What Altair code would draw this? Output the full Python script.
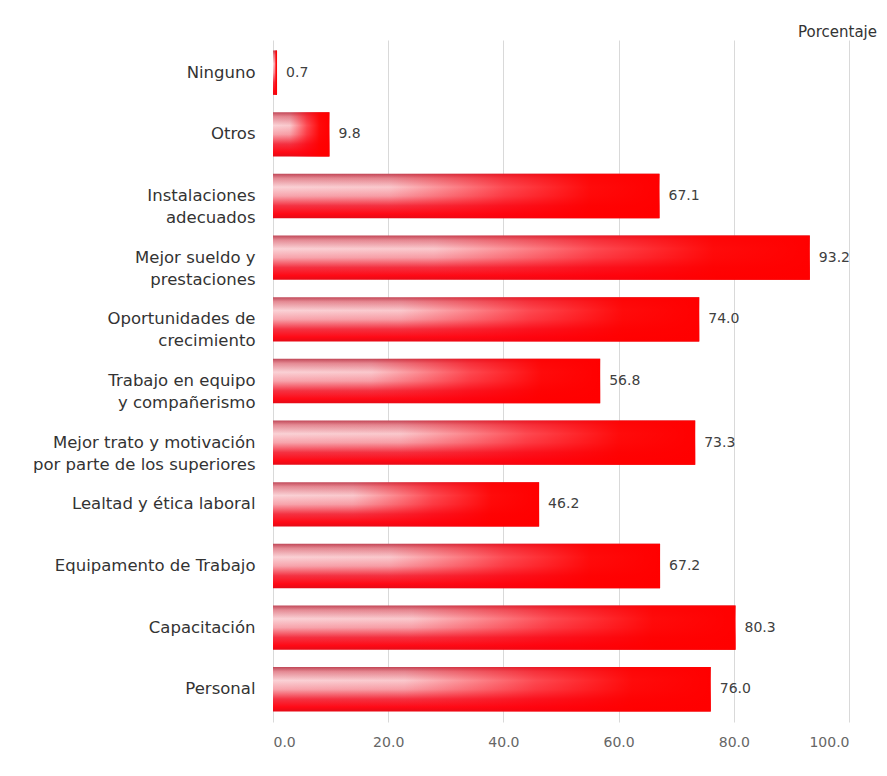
import altair as alt
import pandas as pd

categories = [
    "Ninguno",
    "Otros",
    "Instalaciones\nadecuados",
    "Mejor sueldo y\nprestaciones",
    "Oportunidades de\ncrecimiento",
    "Trabajo en equipo\ny compañerismo",
    "Mejor trato y motivación\npor parte de los superiores",
    "Lealtad y ética laboral",
    "Equipamento de Trabajo",
    "Capacitación",
    "Personal",
]
values = [0.7, 9.8, 67.1, 93.2, 74.0, 56.8, 73.3, 46.2, 67.2, 80.3, 76.0]
x_ticks = [0, 20, 40, 60, 80, 100]

df = pd.DataFrame({"cat": categories, "val": values})

FONT = "DejaVu Sans"

y_enc = alt.Y(
    "cat:N",
    sort=categories,
    scale=alt.Scale(paddingInner=0.28, paddingOuter=0.17),
    axis=alt.Axis(
        title=None,
        ticks=False,
        domain=False,
        labelPadding=18,
        labelFont=FONT,
        labelFontSize=16.5,
        labelColor="#333333",
        labelLineHeight=22,
        labelLimit=300,
        labelExpr="split(datum.label, '\\n')",
    ),
)
x_enc = alt.X(
    "val:Q",
    scale=alt.Scale(domain=[0, 100]),
    axis=alt.Axis(
        title=None,
        values=x_ticks,
        format=".1f",
        ticks=False,
        domain=False,
        grid=True,
        gridColor="#d9d9d9",
        labelFont=FONT,
        labelFontSize=14,
        labelColor="#666666",
        labelPadding=13,
    ),
)

vert_grad = alt.Gradient(
    gradient="linear",
    x1=0, y1=0, x2=0, y2=1,
    stops=[
        alt.GradientStop(color="#c04858", offset=0),
        alt.GradientStop(color="#e48a94", offset=0.1),
        alt.GradientStop(color="#fad2d6", offset=0.3),
        alt.GradientStop(color="#f7a4ac", offset=0.5),
        alt.GradientStop(color="#f43242", offset=0.72),
        alt.GradientStop(color="#ff0a16", offset=0.9),
        alt.GradientStop(color="#e40a16", offset=1),
    ],
)
horiz_grad = alt.Gradient(
    gradient="linear",
    x1=0, y1=0, x2=1, y2=0,
    stops=[
        alt.GradientStop(color="rgba(255,10,20,0)", offset=0),
        alt.GradientStop(color="rgba(255,10,20,0.05)", offset=0.3),
        alt.GradientStop(color="rgba(255,0,10,0.65)", offset=0.6),
        alt.GradientStop(color="rgba(255,0,0,0.95)", offset=0.82),
        alt.GradientStop(color="rgba(255,0,0,1)", offset=1),
    ],
)

base = alt.Chart(df)
bars = base.mark_bar(color=vert_grad).encode(x=x_enc, y=y_enc)
overlay = base.mark_bar(color=horiz_grad).encode(x="val:Q", y=alt.Y("cat:N", sort=categories))
labels = base.mark_text(
    align="left", dx=9, font=FONT, fontSize=14, color="#404040"
).encode(
    x="val:Q",
    y=alt.Y("cat:N", sort=categories),
    text=alt.Text("val:Q", format=".1f"),
)

chart = (
    alt.layer(bars, overlay, labels)
    .properties(
        width=576,
        height=682,
        autosize=alt.AutoSizeParams(type="none"),
        padding={"left": 265, "top": 32, "right": 30, "bottom": 40},
        title=alt.TitleParams(
            "Porcentaje",
            anchor="end",
            dx=27,
            offset=0,
            font=FONT,
            fontSize=15,
            fontWeight="normal",
            color="#333333",
        ),
    )
    .configure_view(stroke=None)
)

chart.save("out.html", embed_options={"renderer": "svg", "actions": False})
